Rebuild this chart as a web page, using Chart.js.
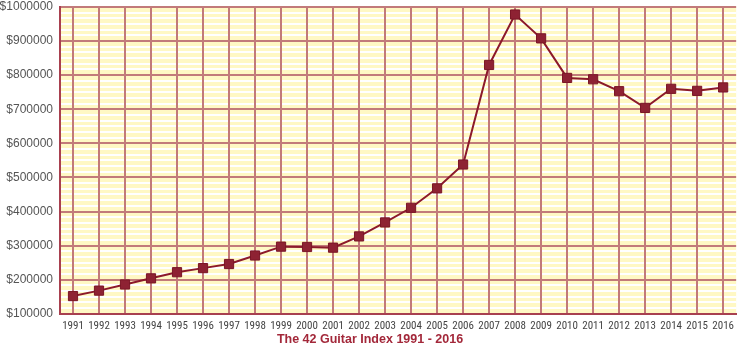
<!DOCTYPE html>
<html>
<head>
<meta charset="utf-8">
<script src="https://cdn.jsdelivr.net/npm/chart.js@4/dist/chart.umd.min.js"></script>
<style>
  html, body { margin: 0; padding: 0; background: #fff; }
  #wrap { width: 740px; height: 347px; }
</style>
</head>
<body>
<div id="wrap"><canvas id="lineChart"></canvas></div>
<script>
const CHART = document.getElementById('lineChart');

var years = ['1991','1992','1993','1994','1995','1996','1997','1998','1999','2000','2001','2002','2003',
             '2004','2005','2006','2007','2008','2009','2010','2011','2012','2013','2014','2015','2016'];
var index42 = [152000, 168000, 186000, 204000, 222000, 234000, 246000, 271000, 297000, 296000, 294000, 327000, 368000,
               411000, 468000, 538000, 830000, 978000, 908000, 792000, 788000, 753000, 704000, 760000, 754000, 764000];
var chartTitle = 'The 42 Guitar Index 1991 - 2016';

// yellow paper behind the grid
var paper = {
  id: 'paper',
  beforeDraw: function(chart) {
    var a = chart.chartArea, ctx = chart.ctx;
    ctx.save();
    ctx.fillStyle = '#fff8c4';
    ctx.fillRect(a.left, a.top, a.right - a.left, a.bottom - a.top);
    ctx.restore();
  }
};

var lineChart = new Chart(CHART, {
  type: 'line',
  data: {
    labels: years,
    datasets: [{
      label: 'The 42 Guitar Index',
      data: index42,
      fill: false,
      tension: 0,
      borderColor: '#8c1a2b',
      borderWidth: 2,
      pointStyle: 'rect',
      pointRadius: 6.5,
      pointBackgroundColor: '#8e2233',
      pointBorderColor: '#7a1626',
      pointBorderWidth: 1
    }]
  },
  options: {
    responsive: true,
    maintainAspectRatio: false,
    animation: false,
    layout: { autoPadding: false, padding: 0 },
    plugins: {
      legend: { display: false },
      tooltip: { enabled: false },
      title: {
        display: true,
        position: 'bottom',
        text: chartTitle,
        color: '#a3283a',
        padding: { top: -7, bottom: 0 },
        font: { family: '"Liberation Sans", Arial, sans-serif', size: 12.5, weight: 'bold' }
      }
    },
    scales: {
      x: {
        offset: true,
        grid: { offset: false, color: '#c27a7a', lineWidth: 2, drawTicks: false },
        border: { color: '#a8404f', width: 2 },
        ticks: {
          padding: 6,
          maxRotation: 0,
          autoSkip: false,
          color: '#444',
          font: { family: '"Roboto Condensed", "Liberation Sans", sans-serif', size: 11 }
        }
      },
      y: {
        min: 100000,
        max: 1000000,
        grid: { color: '#c27a7a', lineWidth: 2, drawTicks: false },
        border: { color: '#a8404f', width: 2 },
        ticks: {
          stepSize: 100000,
          padding: 7,
          color: '#555',
          font: { family: '"Liberation Sans", Arial, sans-serif', size: 12 },
          callback: function(v) { return '$' + v; }
        },
        afterFit: function(scale) { scale.paddingTop = 7; scale.width = 60; }
      },
      stripes: {
        position: 'left',
        min: 0,
        max: 54,
        grid: {
          z: -2,
          drawTicks: false,
          lineWidth: 2,
          color: function(ctx) { return ctx.index % 6 === 0 ? 'rgba(0,0,0,0)' : '#ffffff'; }
        },
        border: { display: false },
        ticks: { display: false, stepSize: 1 },
        afterFit: function(scale) { scale.width = 0; }
      }
    }
  },
  plugins: [paper]
});
</script>
</body>
</html>
